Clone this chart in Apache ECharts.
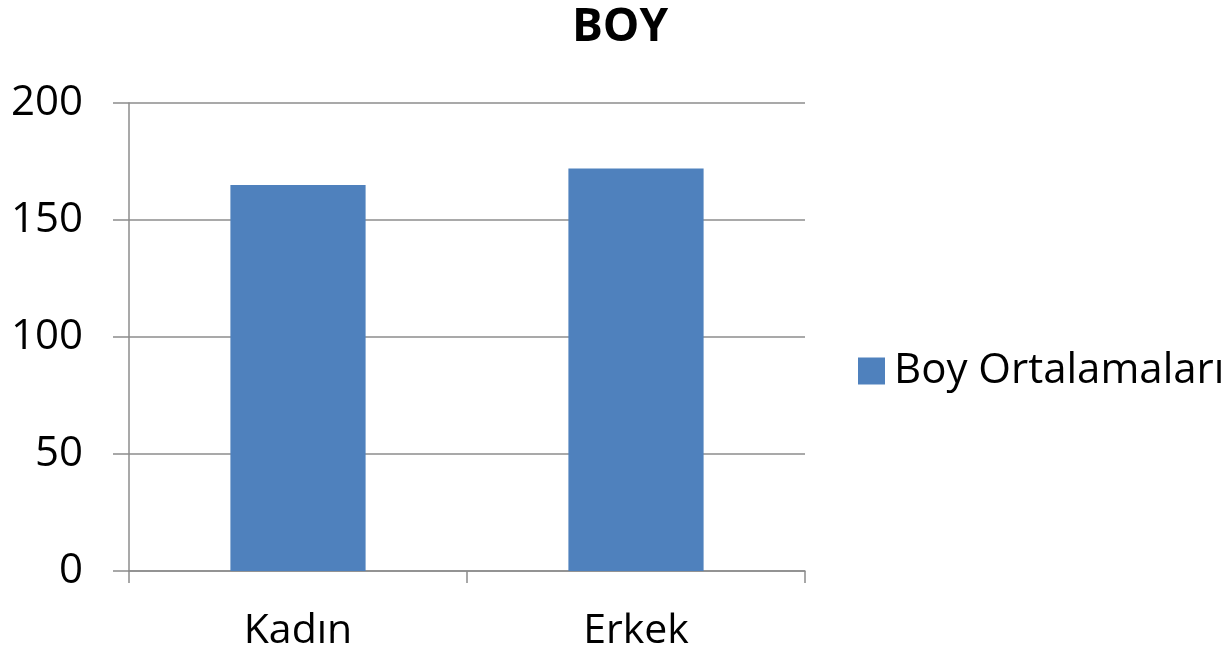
<!doctype html>
<html lang="tr">
<head>
    <meta charset="UTF-8">
    <title>BOY</title>
    <style>
        html, body { margin: 0; padding: 0; background: #fff; }
        #main { width: 1224px; height: 654px; }
    </style>
    <script src="https://cdn.jsdelivr.net/npm/echarts@6/dist/echarts.min.js"></script>
</head>
<body>
    <div id="main"></div>
    <script>
        // values
        var categories = ['Kadın', 'Erkek'];
        var boyValues = [165, 172];
        var seriesName = 'Boy Ortalamaları';

        var font = '"Open Sans", "DejaVu Sans", sans-serif';
        var gray = '#8c8c8c';

        window.onload = function () {
            var chart = echarts.init(document.getElementById('main'));
            chart.setOption({
                animation: false,
                title: {
                    text: 'BOY',
                    left: 615,
                    textAlign: 'center',
                    top: 0,
                    textStyle: { fontFamily: font, fontSize: 46, fontWeight: 'bold', color: '#000' }
                },
                legend: {
                    data: [seriesName],
                    orient: 'vertical',
                    left: 853,
                    top: 345,
                    icon: 'rect',
                    itemWidth: 27,
                    itemHeight: 27,
                    itemGap: 10,
                    textStyle: { fontFamily: font, fontSize: 42, color: '#000', padding: [0, 0, 0, 4] }
                },
                grid: { left: 129, right: 419, top: 103, bottom: 83 },
                xAxis: {
                    type: 'category',
                    data: categories,
                    axisLine: { lineStyle: { color: gray, width: 1.5 } },
                    axisTick: { show: true, length: 12, lineStyle: { color: gray, width: 1.5 } },
                    axisLabel: { fontFamily: font, fontSize: 41, color: '#000', margin: 40 }
                },
                yAxis: {
                    type: 'value',
                    min: 0,
                    max: 200,
                    interval: 50,
                    axisLine: { show: true, lineStyle: { color: gray, width: 1.5 } },
                    axisTick: { show: true, length: 16, lineStyle: { color: gray, width: 1.5 } },
                    splitLine: { lineStyle: { color: gray, width: 1.5 } },
                    axisLabel: { fontFamily: font, fontSize: 42, color: '#000', margin: 46 }
                },
                series: [{
                    name: seriesName,
                    type: 'bar',
                    data: boyValues,
                    barWidth: '40%',
                    itemStyle: { color: '#4f81bd' }
                }]
            });
        };
    </script>
</body>
</html>
